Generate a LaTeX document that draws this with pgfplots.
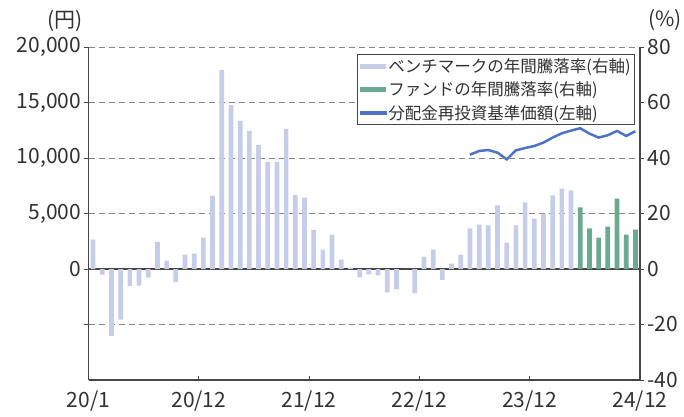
\documentclass[border=0pt]{standalone}
\usepackage{pgfplots}
\pgfplotsset{compat=1.18}
\usepackage{fontspec}
\setmainfont{Noto Sans CJK JP}
\definecolor{bench}{RGB}{197,205,232}
\definecolor{fund}{RGB}{106,170,142}
\definecolor{navline}{RGB}{79,115,196}
\definecolor{txt}{RGB}{50,50,50}
\definecolor{axc}{RGB}{70,70,70}
\definecolor{gridc}{RGB}{135,135,135}
\begin{document}
\begin{tikzpicture}[font=\fontsize{21}{25}\selectfont, text=txt]
\pgfplotsset{
  base/.style={scale only axis, width=551.5pt, height=333pt, xmin=-0.5, xmax=59.5,
    axis line style={draw=axc, line width=1.1pt, -},
    tick style={draw=axc, line width=0.9pt},
    major tick length=4pt,
    ticklabel style={text=txt},
  }
}
% left axis (yen)
\begin{axis}[base, ymin=-10000, ymax=20000,
  axis y line*=left, axis x line=none,
  tick align=outside, scaled y ticks=false,
  ytick={-5000,0,5000,10000,15000,20000},
  yticklabels={{},0,{5,000},{10,000},{15,000},{20,000}},
  xtick=\empty]
\addplot[navline, line width=2.5pt, mark=none] coordinates {
(41,10300) (42,10630) (43,10720) (44,10480) (45,9880) (46,10690) (47,10900)
(48,11080) (49,11390) (50,11840) (51,12230) (52,12470) (53,12680) (54,12200)
(55,11840) (56,12050) (57,12440) (58,11990) (59,12410)};
\end{axis}
% right axis (%)
\begin{axis}[base, ymin=-40, ymax=80,
  axis y line*=right, axis x line*=bottom,
  tick align=outside,
  ytick={-40,-20,0,20,40,60,80},
  yticklabels={-40,-20,0,20,40,60,80},
  xtick=\empty,
  ymajorgrids,
  major grid style={draw=gridc, line width=0.9pt, dash pattern=on 6pt off 4pt},
  extra y ticks={0}, extra y tick labels={},
  extra y tick style={grid=major, major grid style={draw=axc, line width=1.1pt, solid}},
  legend style={at={(rel axis cs:0.991,0.979)}, anchor=north east, draw=axc,
    line width=0.9pt, font=\fontsize{16.5}{19}\selectfont, text=txt,
    row sep=4pt, inner sep=2pt, fill=white},
  legend cell align=left]
\addplot[ybar, bar width=4.7pt, bar shift=0pt, fill=bench, draw=none,
  legend image code/.code={\fill[bench] (0pt,-2.6pt) rectangle (26pt,2.6pt);}]
coordinates {
(0,10.6) (1,-2.0) (2,-24.2) (3,-18.2) (4,-6.2) (5,-6.0) (6,-3.1) (7,9.8) (8,3.0)
(9,-4.6) (10,5.2) (11,5.5) (12,11.3) (13,26.4) (14,71.7) (15,59.1) (16,53.4)
(17,49.8) (18,44.7) (19,38.6) (20,38.6) (21,50.5) (22,26.7) (23,25.7) (24,14.1)
(25,7.0) (26,12.4) (27,3.4) (28,0.5) (29,-3.0) (30,-1.9) (31,-2.3) (32,-8.4)
(33,-7.3) (34,0) (35,-8.8) (36,4.5) (37,7.0) (38,-3.9) (39,1.9) (40,5.2)
(41,14.6) (42,16.0) (43,15.7) (44,22.9) (45,9.5) (46,15.7) (47,24.0) (48,18.2)
(49,20.0) (50,26.5) (51,29.0) (52,28.3)};
\addlegendentry{ベンチマークの年間騰落率(右軸)}
\addplot[ybar, bar width=4.7pt, bar shift=0pt, fill=fund, draw=none,
  legend image code/.code={\fill[fund] (0pt,-2.6pt) rectangle (26pt,2.6pt);}]
coordinates {
(53,22.2) (54,14.6) (55,11.3) (56,15.3) (57,25.4) (58,12.4) (59,14.2)};
\addlegendentry{ファンドの年間騰落率(右軸)}
\addlegendimage{legend image code/.code={\fill[navline] (0pt,-1.4pt) rectangle (26pt,1.4pt);}}
\addlegendentry{分配金再投資基準価額(左軸)}
\end{axis}
% x ticks (inside)
\begin{axis}[base, ymin=0, ymax=1, hide y axis,
  axis x line*=bottom, tick align=inside,
  xtick={-0.5,11.5,23.5,35.5,47.5,59.5},
  xticklabels={20/1,20/12,21/12,22/12,23/12,24/12},
  xticklabel style={yshift=-7pt}]
\end{axis}
\node[anchor=south east, inner sep=0pt] at (-5.5pt,348pt) {(円)};
\node[anchor=south west, inner sep=0pt] at (559.5pt,349pt) {(\%)};
\pgfresetboundingbox
\path (-88.5pt,-36pt) rectangle (595.5pt,380pt);
\end{tikzpicture}
\end{document}
